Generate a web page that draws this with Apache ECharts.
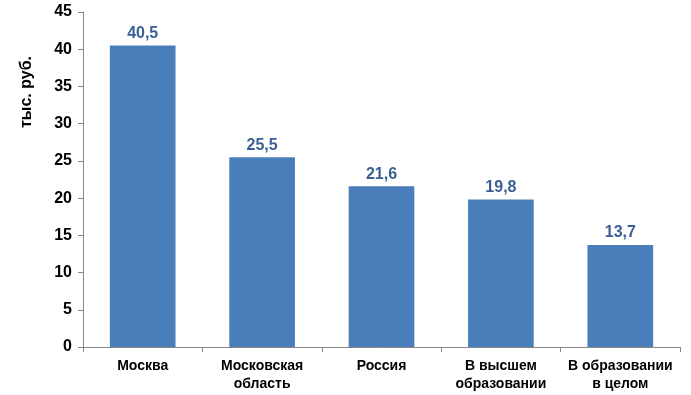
<!DOCTYPE html>
<html>
<head>
<meta charset="utf-8">
<script src="https://cdn.jsdelivr.net/npm/echarts@6/dist/echarts.min.js"></script>
<style>
  html, body { margin: 0; padding: 0; background: #fff; }
  #chart { width: 691px; height: 395px; }
</style>
</head>
<body>
<div id="chart"></div>
<script>
// данные
const categories = ['Москва', 'Московская\nобласть', 'Россия', 'В высшем\nобразовании', 'В образовании\nв целом'];
const values = [40.5, 25.5, 21.6, 19.8, 13.7];
const yTicks = { min: 0, max: 45, interval: 5 };

const myChart = echarts.init(document.getElementById('chart'));
const font = 'Liberation Sans, Arial, sans-serif';

const option = {
  animation: false,
  grid: { left: 83, right: 11, top: 12, bottom: 48 },
  graphic: [{
    type: 'text',
    x: 27, y: 92,
    rotation: Math.PI / 2,
    style: {
      text: 'тыс. руб.',
      font: 'bold 16px Liberation Sans, Arial, sans-serif',
      fill: '#000',
      textAlign: 'center',
      textVerticalAlign: 'middle'
    }
  }],
  xAxis: {
    type: 'category',
    data: categories,
    axisLine: { lineStyle: { color: '#888', width: 1 } },
    axisTick: { show: true, alignWithLabel: false, length: 5, lineStyle: { color: '#888' } },
    axisLabel: {
      color: '#000', fontWeight: 'bold', fontSize: 14, fontFamily: font,
      lineHeight: 18, margin: 10, interval: 0
    }
  },
  yAxis: {
    type: 'value',
    min: yTicks.min, max: yTicks.max, interval: yTicks.interval,
    splitLine: { show: false },
    axisLine: { show: true, lineStyle: { color: '#888', width: 1 } },
    axisTick: { show: true, length: 5, lineStyle: { color: '#888' } },
    axisLabel: {
      color: '#000', fontWeight: 'bold', fontSize: 16,
      fontFamily: font, margin: 11,
      formatter: v => String(v)
    }
  },
  series: [{
    type: 'bar',
    data: values,
    barWidth: '55%',
    itemStyle: { color: '#4A7EBB' },
    label: {
      show: true,
      position: 'top',
      distance: 4,
      color: '#3A5F95',
      fontWeight: 'bold',
      fontSize: 16,
      fontFamily: font,
      formatter: p => String(p.value).replace('.', ',')
    }
  }]
};

myChart.setOption(option);
</script>
</body>
</html>
